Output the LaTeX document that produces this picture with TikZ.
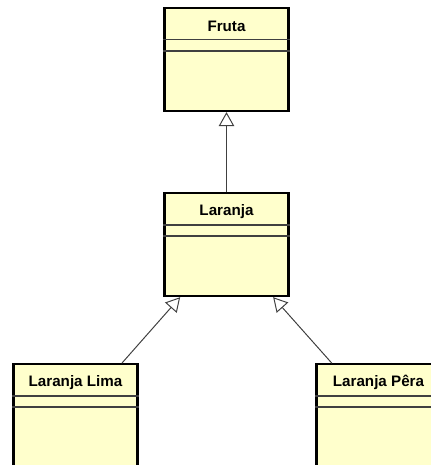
\documentclass[tikz,border=0pt]{standalone}
\usepackage{fontspec}
\setmainfont{Liberation Sans}
\usetikzlibrary{arrows.meta, positioning}
\definecolor{classfill}{RGB}{255,255,204}
\definecolor{linkgray}{RGB}{64,64,64}

\begin{document}
\begin{tikzpicture}[
  node distance = 2.0cm,
  class box/.style = {
    draw=black, line width=1.5pt, fill=classfill, rectangle,
    minimum width=3.1cm, minimum height=2.575cm, inner sep=0pt
  },
  class name/.style = {
    font=\fontsize{10.8}{12}\selectfont\bfseries, minimum height=0.82cm,
    inner sep=0pt, anchor=north, yshift=-0.06cm
  },
  sep/.style   = {draw=black!75, line width=1pt},
  inherit/.style = {-{Triangle[open, length=10pt, width=11pt]}, draw=linkgray,
    line width=0.7pt, fill=white},
]

% page frame
\path[use as bounding box, clip] (0,0) rectangle (10.775,-11.625);

\node[class box] (fruta)   at (5.6625,-1.4875) {};
\node[class box] (laranja) [below=of fruta] {};
\node[class box] (lima)    [below=1.65cm of laranja, xshift=-3.775cm] {};
\node[class box] (pera)    [below=1.65cm of laranja, xshift=3.8cm] {};

% class names and compartment lines
\foreach \cls/\txt in {fruta/Fruta, laranja/Laranja, lima/Laranja Lima, pera/Laranja Pêra} {
  \node[class name] (\cls-name) at (\cls.north) {\txt};
  \draw[sep] ([yshift=-0.82cm]\cls.north west) -- ([yshift=-0.82cm]\cls.north east);
  \draw[sep] ([yshift=-1.1cm]\cls.north west) -- ([yshift=-1.1cm]\cls.north east);
}

% generalisations
\draw[inherit] (laranja) -- (fruta);
\draw[inherit] (lima) -- (laranja);
\draw[inherit] (pera) -- (laranja);

\end{tikzpicture}
\end{document}
